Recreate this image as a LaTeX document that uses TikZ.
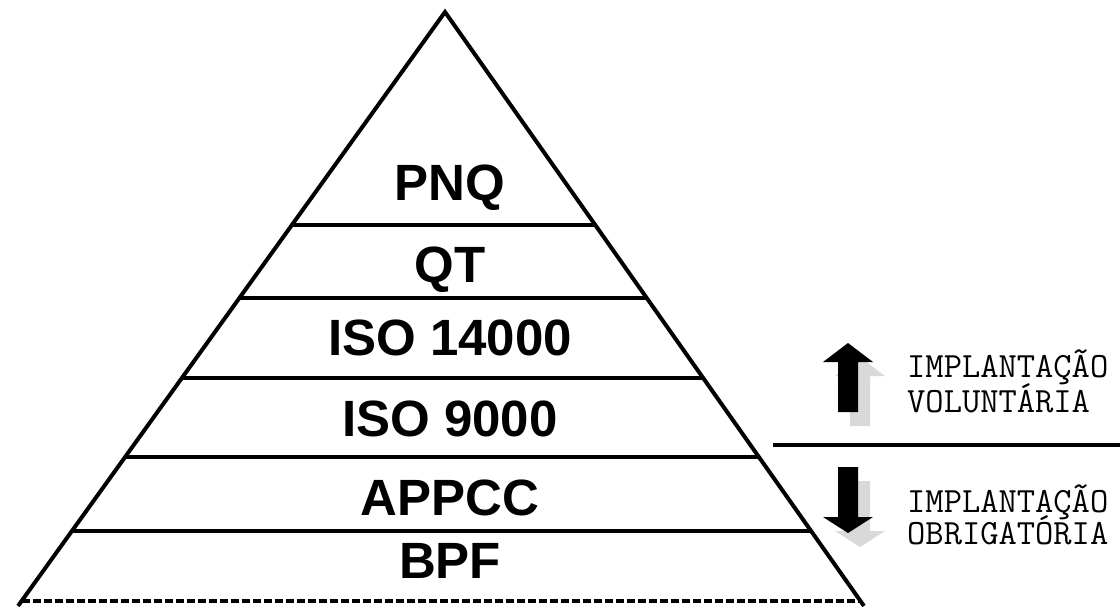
\documentclass[tikz,border=0pt]{standalone}
\usepackage{fontspec}
\setmainfont{Liberation Sans}
\usetikzlibrary{calc,positioning}

\begin{document}
\begin{tikzpicture}[
        x=1pt, y=-1pt,
        edge/.style={line width=4pt, line join=miter},
        layer/.style={line width=4pt},
        level/.style={anchor=base, inner sep=0pt, font=\bfseries\fontsize{51}{51}\selectfont},
        legend/.style={anchor=base west, inner sep=0pt, font=\ttfamily\fontsize{35.5}{35.5}\selectfont},
        bigarrow/.style={fill=black},
        arrowshadow/.style={fill=gray!30}
    ]
        \useasboundingbox (0,0) rectangle (1120,606);

        % Pyramid
        \coordinate (apex) at (445,12);
        \coordinate (bl) at (18,606);
        \coordinate (br) at (864,606);
        \draw[edge] (bl) -- (apex) -- (br);
        \foreach \y in {225,298,378,457,531}
            \draw[layer] ($(apex)!{(\y-12)/594}!(bl)$) -- ($(apex)!{(\y-12)/594}!(br)$);
        \draw[layer, dash pattern=on 8pt off 3pt] ($(apex)!{589/594}!(bl)$) -- ($(apex)!{589/594}!(br)$);

        % Levels
        \node[level] (pnq) at (450,200) {PNQ};
        \node[level] (qt) at (450,282) {QT};
        \node[level] (iso14) at (450,355) {ISO 14000};
        \node[level] (iso9) at (450,436) {ISO 9000};
        \node[level] (appcc) at (450,515) {APPCC};
        \node[level] (bpf) at (450,578) {BPF};

        % Arrows
        \fill[arrowshadow, shift={(12,14)}] (848,343) -- ++(25,19) -- ++(-15,0) -- ++(0,50) -- ++(-20,0) -- ++(0,-50) -- ++(-15,0) -- cycle;
        \fill[bigarrow] (848,343) -- ++(25,19) -- ++(-15,0) -- ++(0,50) -- ++(-20,0) -- ++(0,-50) -- ++(-15,0) -- cycle;
        \fill[arrowshadow, shift={(12,14)}] (848,533) -- ++(25,-16) -- ++(-15,0) -- ++(0,-50) -- ++(-20,0) -- ++(0,50) -- ++(-15,0) -- cycle;
        \fill[bigarrow] (848,533) -- ++(25,-16) -- ++(-15,0) -- ++(0,-50) -- ++(-20,0) -- ++(0,50) -- ++(-15,0) -- cycle;

        % Legend
        \node[legend] (vol1) at (907,377) {IMPLANTAÇÃO};
        \node[legend] (vol2) at (907,412) {VOLUNTÁRIA};
        \draw[layer] (773,445) -- (1120,445);
        \node[legend] (obr1) at (907,512) {IMPLANTAÇÃO};
        \node[legend] (obr2) at (907,544) {OBRIGATÓRIA};

    \end{tikzpicture}
\end{document}
